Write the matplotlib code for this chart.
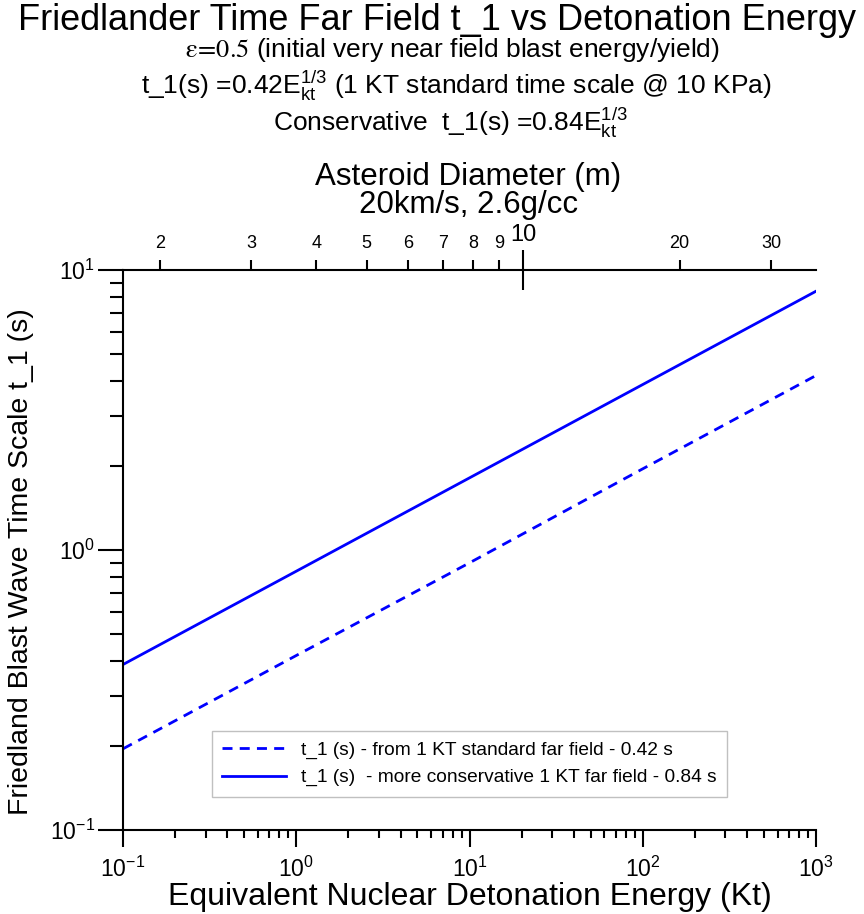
import numpy as np
import matplotlib
matplotlib.use("Agg")
import matplotlib.pyplot as plt
from matplotlib.ticker import NullFormatter, FixedLocator, FixedFormatter

plt.rcParams['font.family'] = ['Liberation Sans', 'DejaVu Sans']
plt.rcParams['mathtext.fontset'] = 'custom'
plt.rcParams['mathtext.rm'] = 'Liberation Sans'
plt.rcParams['mathtext.it'] = 'Liberation Sans:italic'
plt.rcParams['mathtext.default'] = 'regular'

# values (log-log straight lines)
energy_kt = [0.1, 1, 10, 100, 1000]
t1_standard = [0.195, 0.42, 0.90, 1.95, 4.2]
t1_conservative = [0.39, 0.84, 1.81, 3.9, 8.4]

# top axis: asteroid diameter (m), 10 m sits at ~20.4 kt
diam_ticks = [2, 3, 4, 5, 6, 7, 8, 9, 20, 30]
diam_major = [10]
energy_at_10m = 20.4

label_std = "t_1 (s) - from 1 KT standard far field - 0.42 s"
label_cons = "t_1 (s)  - more conservative 1 KT far field - 0.84 s"

blue = '#0000ff'

fig = plt.figure(figsize=(8.64, 9.14), dpi=100)
ax = fig.add_axes([0.1424, 0.0919, 0.8021, 0.6127])

ax.plot(energy_kt, t1_standard, color=blue, lw=2, ls=(0, (3.6, 2.6)), label=label_std)
ax.plot(energy_kt, t1_conservative, color=blue, lw=2, label=label_cons)

ax.set_xscale('log')
ax.set_yscale('log')
ax.set_xlim(0.1, 1000)
ax.set_ylim(0.1, 10)

ax.spines['right'].set_visible(False)
ax.spines['top'].set_visible(False)
for s in ['left', 'bottom']:
    ax.spines[s].set_linewidth(1.5)

ax.tick_params(axis='x', which='major', direction='out', length=12, width=1.5,
               labelsize=16.5, pad=7)
ax.tick_params(axis='x', which='minor', direction='out', length=6, width=1.5)
ax.tick_params(axis='y', which='major', direction='out', length=18, width=1.5,
               labelsize=16.5, pad=2)
ax.tick_params(axis='y', which='minor', direction='out', length=9.5, width=1.5)
ax.xaxis.set_minor_formatter(NullFormatter())
ax.yaxis.set_minor_formatter(NullFormatter())

ax.set_xlabel("Equivalent Nuclear Detonation Energy (Kt)", fontsize=23, labelpad=0)
ax.set_ylabel("Friedland Blast Wave Time Scale t_1 (s)", fontsize=20.5)
ax.yaxis.set_label_coords(-0.128, 0.48)

# top axis in asteroid diameter
secax = ax.secondary_xaxis(
    'top',
    functions=(lambda e: 10 * np.cbrt(np.asarray(e) / energy_at_10m),
               lambda d: energy_at_10m * (np.asarray(d) / 10) ** 3))
secax.spines['top'].set_linewidth(1.5)
secax.xaxis.set_major_locator(FixedLocator(diam_major))
secax.xaxis.set_major_formatter(FixedFormatter([str(d) for d in diam_major]))
secax.xaxis.set_minor_locator(FixedLocator(diam_ticks))
secax.xaxis.set_minor_formatter(FixedFormatter([str(d) for d in diam_ticks]))
secax.tick_params(axis='x', which='major', direction='inout', length=29, width=1.5,
                  labelsize=17, pad=3)
secax.tick_params(axis='x', which='minor', direction='out', length=7, width=1.5,
                  labelsize=13, pad=6)

leg = ax.legend(loc='lower left', bbox_to_anchor=(0.128, 0.059), borderaxespad=0,
                fontsize=13.8, handlelength=3.3, handletextpad=0.8, fancybox=False,
                framealpha=1, edgecolor='#c0c0c0', borderpad=0.55, labelspacing=0.5)
leg.get_frame().set_linewidth(1)

# header text
fig.text(0.506, 0.978, "Friedlander Time Far Field t_1 vs Detonation Energy",
         ha='center', va='center', fontsize=26)
fig.text(0.524, 0.945, r"$\mathrm{\varepsilon\!=\!0.5}$ (initial very near field blast energy/yield)",
         ha='center', va='center', fontsize=19, math_fontfamily='stix')
fig.text(0.528, 0.906, r"t_1(s) =0.42E$_{kt}^{1/3}$ (1 KT standard time scale @ 10 KPa)",
         ha='center', va='center', fontsize=19)
fig.text(0.521, 0.866, r"Conservative  t_1(s) =0.84E$_{kt}^{1/3}$",
         ha='center', va='center', fontsize=19)
fig.text(0.542, 0.806, "Asteroid Diameter (m)", ha='center', va='center', fontsize=22.5)
fig.text(0.542, 0.776, "20km/s, 2.6g/cc", ha='center', va='center', fontsize=22.5)

fig.savefig("out.png", dpi=100)
